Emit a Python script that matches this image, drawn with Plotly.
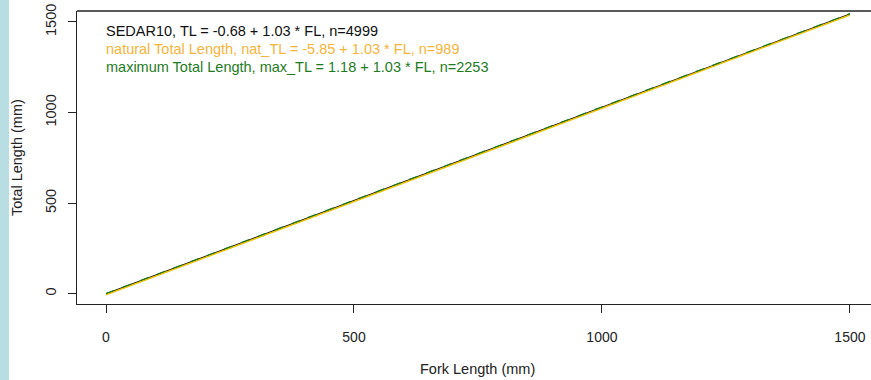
import plotly.graph_objects as go

# Data
fork_length = [0, 1500]
sedar_tl = [-0.7, 1544.3]
nat_tl = [-5.9, 1539.2]
max_tl = [1.2, 1546.2]

legend_lines = [
    "SEDAR10, TL = -0.68 + 1.03 * FL, n=4999",
    "natural Total Length, nat_TL = -5.85 + 1.03 * FL, n=989",
    "maximum Total Length, max_TL = 1.18 + 1.03 * FL, n=2253",
]
legend_colors = ["#111111", "#F5B43A", "#1E7B1E"]

x_ticks = [0, 500, 1000, 1500]
y_ticks = [0, 500, 1000, 1500]

W, H = 871, 380
ML, MR, MT, MB = 77, 0, 11, 76
PW = W - ML - MR
PH = H - MT - MB

fig = go.Figure()
fig.add_trace(go.Scatter(x=fork_length, y=sedar_tl, mode="lines",
                         line=dict(color="black", width=1.2), showlegend=False))
fig.add_trace(go.Scatter(x=fork_length, y=nat_tl, mode="lines",
                         line=dict(color="#E8C20A", width=1.6), showlegend=False))
fig.add_trace(go.Scatter(x=fork_length, y=max_tl, mode="lines",
                         line=dict(color="#1E7B1E", width=1.2, dash="dash"), showlegend=False))

font = "Liberation Sans, Arial, sans-serif"

annotations = []
for i, (txt, col) in enumerate(zip(legend_lines, legend_colors)):
    ypx = 31 + 18 * i
    annotations.append(dict(
        text=txt, xref="paper", yref="paper",
        x=(104 - ML) / PW, y=(MT + PH - ypx) / PH,
        xanchor="left", yanchor="middle", showarrow=False,
        font=dict(family=font, size=14.5, color=col)))
annotations.append(dict(
    text="Fork Length (mm)", xref="paper", yref="paper",
    x=(477 - ML) / PW, y=(MT + PH - 369) / PH,
    xanchor="center", yanchor="middle", showarrow=False,
    font=dict(family=font, size=14.5, color="#222222")))
annotations.append(dict(
    text="Total Length (mm)", xref="paper", yref="paper",
    x=(17 - ML) / PW, y=(MT + PH - 157) / PH, textangle=-90,
    xanchor="center", yanchor="middle", showarrow=False,
    font=dict(family=font, size=14.5, color="#222222")))

shapes = [
    # light blue strip at left edge
    dict(type="rect", xref="paper", yref="paper",
         x0=-ML / PW, x1=(9 - ML) / PW, y0=-MB / PH, y1=1 + MT / PH,
         fillcolor="#B8DEE4", line=dict(width=0), layer="below"),
    # top border of plot box
    dict(type="line", xref="paper", yref="paper", x0=0, x1=1, y0=1, y1=1,
         line=dict(color="#222222", width=1.5)),
]

fig.update_layout(
    width=W, height=H,
    margin=dict(l=ML, r=MR, t=MT, b=MB, pad=0),
    paper_bgcolor="white", plot_bgcolor="white",
    annotations=annotations, shapes=shapes,
    font=dict(family=font, color="#222222"),
)
fig.update_xaxes(
    range=[-58.5, 1542.5], tickvals=x_ticks, ticktext=[str(v) for v in x_ticks],
    showgrid=False, zeroline=False, showline=True, linecolor="#222222", linewidth=1.3,
    ticks="outside", ticklen=8, tickcolor="#222222", tickwidth=1.2,
    tickfont=dict(family=font, size=14, color="#222222"), ticklabelstandoff=12,
)
fig.update_yaxes(
    range=[-56.9, 1560.7], tickvals=y_ticks, ticktext=[str(v) for v in y_ticks],
    showgrid=False, zeroline=False, showline=True, linecolor="#222222", linewidth=1.3,
    ticks="outside", ticklen=8, tickcolor="#222222", tickwidth=1.2, tickangle=-90,
    tickfont=dict(family=font, size=14.5, color="#222222"), ticklabelstandoff=6,
)

fig.write_html(
    "out.html",
    config={"displayModeBar": False},
    post_script="document.body.style.margin='0px';document.body.style.overflow='hidden';",
)
